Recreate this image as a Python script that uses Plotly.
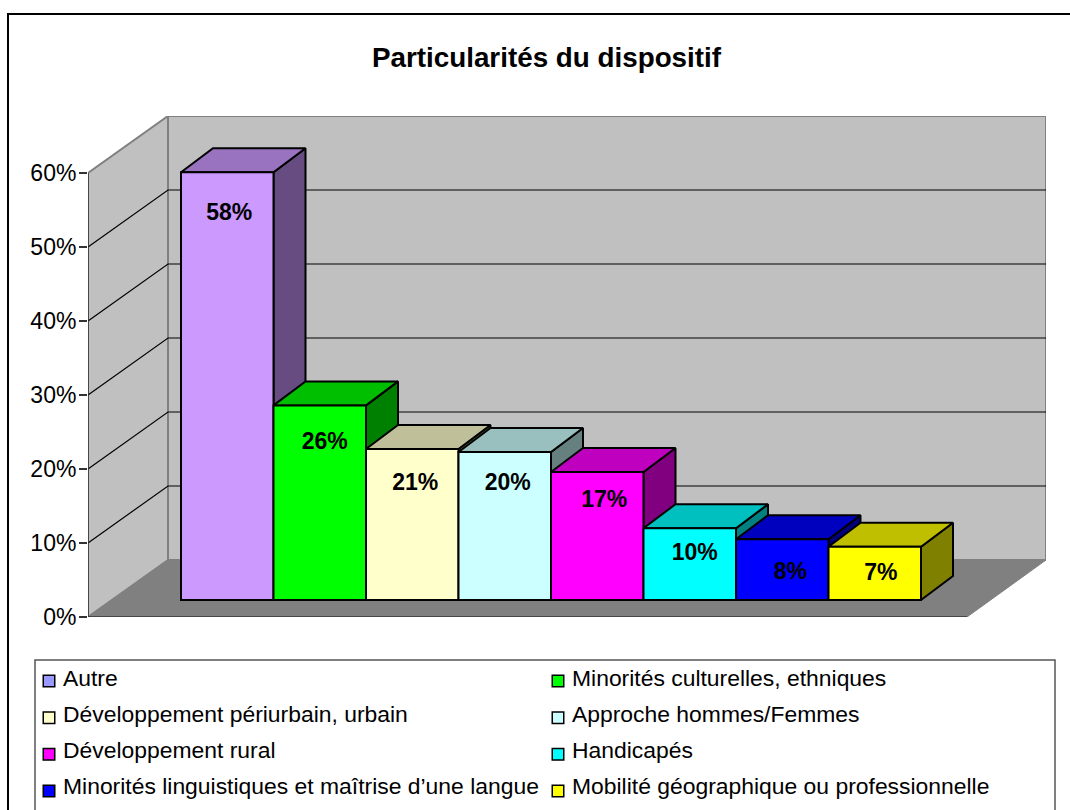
import plotly.graph_objects as go

# ---------- data ----------
categories = ["Autre", "Minorités culturelles, ethniques", "Développement périurbain, urbain",
              "Approche hommes/Femmes", "Développement rural", "Handicapés",
              "Minorités linguistiques et maîtrise d’une langue",
              "Mobilité géographique ou professionnelle"]
values = [57.8, 26.3, 20.4, 20.0, 17.3, 9.7, 8.2, 7.2]
value_labels = ["58%", "26%", "21%", "20%", "17%", "10%", "8%", "7%"]
bar_colors = ["#CC99FF", "#00FF00", "#FFFFCC", "#CCFFFF", "#FF00FF", "#00FFFF", "#0000FF", "#FFFF00"]
legend_colors = ["#9999FF", "#00FF00", "#FFFFCC", "#CCFFFF", "#FF00FF", "#00FFFF", "#0000FF", "#FFFF00"]
y_ticks = [0, 10, 20, 30, 40, 50, 60]
title = "Particularités du dispositif"

# ---------- layout constants (pixels) ----------
W, H = 1070, 810
PLOT_L, PLOT_R, PLOT_B = 88, 1046, 617
BAR_X0, BAR_W, PX_PER_PCT = 181, 92.5, 7.4
BAR_BASE_PX = 17
BAR_DEPTH = (32, 24)
WALL_DEPTH = (80, 57)
FLOOR_FRONT_R = 967
LABEL_SHIFT_X = [2, 5, 3, 3, 7, 5, 8, 6]
LABEL_DROP = [42, 38, 35, 32, 29, 26, 34, 28]


def ux(px):
    return px / BAR_W


def uy(px):
    return px / PX_PER_PCT


def dim(color, f):
    r, g, b = (int(color[i:i + 2], 16) for i in (1, 3, 5))
    return f"rgb({round(r * f)},{round(g * f)},{round(b * f)})"


x_range = [ux(PLOT_L - BAR_X0), ux(PLOT_R - BAR_X0)]
y_top = 60 + uy(WALL_DEPTH[1])
y_range = [0, y_top]
plot_t = PLOT_B - y_top * PX_PER_PCT
domain_x = [PLOT_L / W, PLOT_R / W]
domain_y = [1 - PLOT_B / H, 1 - plot_t / H]

xl = x_range[0]
xb = ux(PLOT_L + WALL_DEPTH[0] - BAR_X0)
xr = x_range[1]
xf = ux(FLOOR_FRONT_R - BAR_X0)
yd = uy(WALL_DEPTH[1])


def path(points):
    return "M " + " L ".join(f"{a},{b}" for a, b in points) + " Z"


shapes = []
# chart frame (runs off the right and bottom of the picture)
shapes.append(dict(type="rect", xref="paper", yref="paper", x0=8 / W, x1=1.01, y0=-0.01, y1=1 - 14 / H,
                   line=dict(color="#000000", width=2), fillcolor="#FFFFFF", layer="below"))
# legend frame
shapes.append(dict(type="rect", xref="paper", yref="paper", x0=35 / W, x1=1055 / W, y0=-0.01, y1=1 - 660 / H,
                   line=dict(color="#555555", width=1.5), fillcolor="#FFFFFF", layer="below"))
# walls and floor
wall_style = dict(type="path", xref="x", yref="y", layer="below")
shapes.append(dict(path=path([(xb, yd), (xb, y_top), (xr, y_top), (xr, yd)]), fillcolor="#C0C0C0",
                   line=dict(color="#808080", width=2), **wall_style))
shapes.append(dict(path=path([(xl, 0), (xl, 60), (xb, y_top), (xb, yd)]), fillcolor="#C0C0C0",
                   line=dict(color="#808080", width=2), **wall_style))
shapes.append(dict(path=path([(xl, 0), (xb, yd), (xr, yd), (xf, 0)]), fillcolor="#808080",
                   line=dict(color="#808080", width=1), **wall_style))
# gridlines
for v in y_ticks[1:-1]:
    shapes.append(dict(type="path", xref="x", yref="y", layer="below",
                       path=f"M {xl},{v} L {xb},{v + yd} L {xr},{v + yd}",
                       line=dict(color="#000000", width=1.2)))
# axis line and floor front edge
shapes.append(dict(type="line", xref="x", yref="y", layer="below", x0=xl, x1=xl, y0=0, y1=60,
                   line=dict(color="#333333", width=1.5)))
shapes.append(dict(type="line", xref="x", yref="y", layer="below", x0=xl, x1=xf, y0=0, y1=0,
                   line=dict(color="#333333", width=1.5)))

fig = go.Figure()
base = uy(BAR_BASE_PX)
ddx, ddy = ux(BAR_DEPTH[0]), uy(BAR_DEPTH[1])

# side and top faces, left to right, under the fronts
for i, (v, c) in enumerate(zip(values, bar_colors)):
    xr_bar = i + 1
    top = base + v
    side = [(xr_bar, base), (xr_bar, top), (xr_bar + ddx, top + ddy), (xr_bar + ddx, base + ddy), (xr_bar, base)]
    lid = [(i, top), (i + ddx, top + ddy), (xr_bar + ddx, top + ddy), (xr_bar, top), (i, top)]
    for poly, f in ((side, 0.5), (lid, 0.75)):
        fig.add_trace(go.Scatter(x=[p[0] for p in poly], y=[p[1] for p in poly], mode="lines",
                                 fill="toself", fillcolor=dim(c, f), line=dict(color="#000000", width=2),
                                 hoverinfo="skip", showlegend=False, xaxis="x", yaxis="y"))

# front faces
fig.add_trace(go.Bar(x=[i + 0.5 for i in range(len(values))], y=values, base=base, width=1,
                     marker=dict(color=bar_colors, line=dict(color="#000000", width=2)),
                     hovertext=categories, hoverinfo="text+y", showlegend=False, xaxis="x2", yaxis="y2"))

# value labels
fig.add_trace(go.Scatter(x=[i + 0.5 + ux(s) for i, s in enumerate(LABEL_SHIFT_X)],
                         y=[base + v - uy(d) for v, d in zip(values, LABEL_DROP)],
                         text=value_labels, mode="text", textposition="middle center",
                         textfont=dict(family="Liberation Sans", size=23, color="#000000"),
                         texttemplate="<b>%{text}</b>", hoverinfo="skip", showlegend=False,
                         xaxis="x2", yaxis="y2"))

# legend, laid out in two columns
LEG_X0, LEG_DX, LEG_Y0, LEG_DY = 49, 509, 680, 36
LEG_TEXT_GAP = 14
LEG_MARKER_ROW_SCALE = 1.019
LEG_MARKER_DROP = 1
cols = [i % 2 for i in range(len(categories))]
rows = [i // 2 for i in range(len(categories))]
fig.add_trace(go.Scatter(x=cols, y=[r * LEG_MARKER_ROW_SCALE + LEG_MARKER_DROP / LEG_DY for r in rows], mode="markers",
                         marker=dict(symbol="square", size=11.5, color=legend_colors,
                                     line=dict(color="#000000", width=1.5)),
                         hoverinfo="skip", showlegend=False, xaxis="x3", yaxis="y3"))
fig.add_trace(go.Scatter(x=[c + LEG_TEXT_GAP / LEG_DX for c in cols], y=rows,
                         text=categories, mode="text", textposition="middle right",
                         textfont=dict(family="Liberation Sans", size=22.9, color="#000000"),
                         hoverinfo="skip", showlegend=False, xaxis="x3", yaxis="y3"))

hidden = dict(visible=False, fixedrange=True, automargin=False)
fig.update_layout(
    template="none",
    width=W, height=H, margin=dict(l=0, r=0, t=0, b=0, pad=0), autosize=False,
    paper_bgcolor="#FFFFFF", plot_bgcolor="rgba(0,0,0,0)", showlegend=False, shapes=shapes,
    font=dict(family="Liberation Sans", color="#000000"),
    title=dict(text=f"<b>{title}</b>", x=546.5 / W, y=1 - 57 / H, xanchor="center", yanchor="middle",
               font=dict(family="Liberation Sans", size=27.8, color="#000000")),
    xaxis=dict(domain=domain_x, range=x_range, showgrid=False, zeroline=False, showline=False,
               showticklabels=False, ticks="", fixedrange=True, automargin=False),
    yaxis=dict(domain=domain_y, range=y_range, showgrid=False, zeroline=False, showline=False, tickmode="array",
               tickvals=y_ticks, ticktext=[f"{t}%" for t in y_ticks], ticks="outside", ticklen=8,
               ticklabelstandoff=-2,
               tickwidth=1.5, tickcolor="#333333", tickfont=dict(family="Liberation Sans", size=23, color="#000000"),
               fixedrange=True, automargin=False),
    xaxis2=dict(overlaying="x", range=x_range, **hidden),
    yaxis2=dict(overlaying="y", range=y_range, **hidden),
    xaxis3=dict(domain=[0, 1], range=[-LEG_X0 / LEG_DX, (W - LEG_X0) / LEG_DX], anchor="y3", **hidden),
    yaxis3=dict(domain=[0, 1], range=[(H - LEG_Y0) / LEG_DY, -LEG_Y0 / LEG_DY], anchor="x3", **hidden),
)

fig.write_html("out.html", config=dict(displayModeBar=False),
               post_script="document.body.style.margin='0';document.body.style.overflow='hidden';")
